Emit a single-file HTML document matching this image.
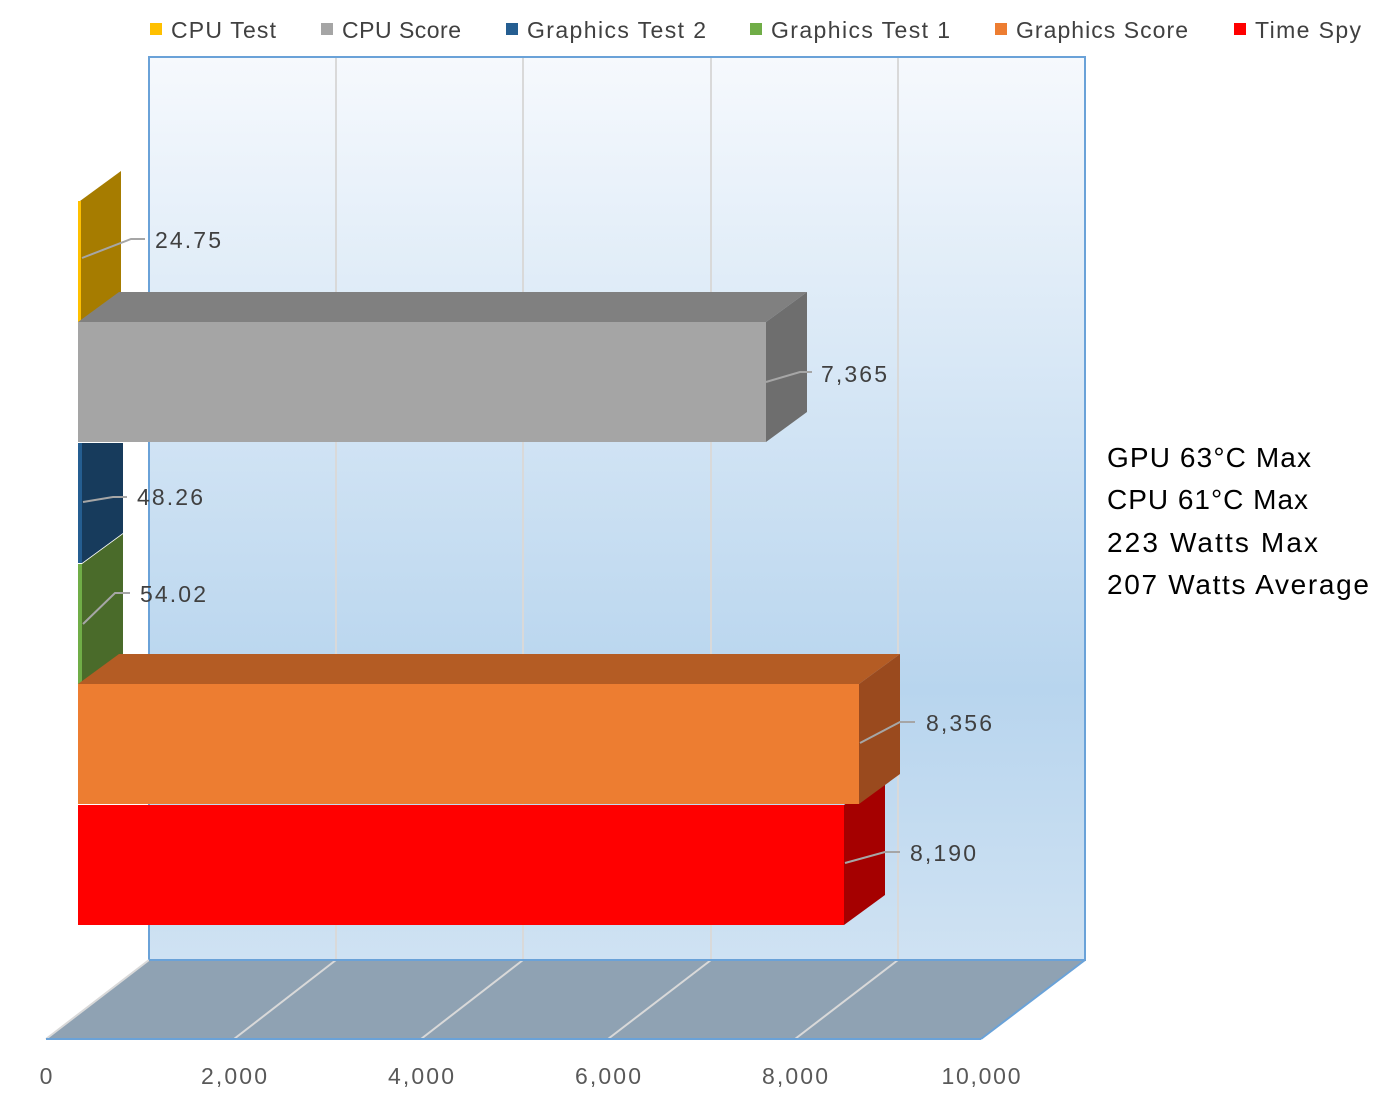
<!DOCTYPE html>
<html><head><meta charset="utf-8"><style>body{margin:0;background:#fff}svg{display:block}</style></head>
<body>
<svg width="1385" height="1107" viewBox="0 0 1385 1107" font-family="Liberation Sans, sans-serif">
<defs><linearGradient id="w" x1="0" y1="0" x2="0" y2="1"><stop offset="0" stop-color="#f6f9fd"/><stop offset="0.7" stop-color="#b8d5ee"/><stop offset="1" stop-color="#cfe2f3"/></linearGradient></defs>
<g font-size="23" fill="#404040">
<rect x="150" y="23" width="12" height="12" fill="#ffc000"/><text x="171" y="38" textLength="105">CPU Test</text>
<rect x="321" y="23" width="12" height="12" fill="#a5a5a5"/><text x="342" y="38" textLength="119">CPU Score</text>
<rect x="506" y="23" width="12" height="12" fill="#255e91"/><text x="527" y="38" textLength="179">Graphics Test 2</text>
<rect x="750" y="23" width="12" height="12" fill="#70ad47"/><text x="771" y="38" textLength="179">Graphics Test 1</text>
<rect x="995" y="23" width="12" height="12" fill="#ed7d31"/><text x="1016" y="38" textLength="172">Graphics Score</text>
<rect x="1234" y="23" width="12" height="12" fill="#ff0000"/><text x="1255" y="38" textLength="106">Time Spy</text>
</g>
<rect x="149" y="57" width="936" height="903" fill="url(#w)" stroke="#6aa2d8" stroke-width="2"/>
<g stroke="#d9d9d9" stroke-width="2">
<line x1="336" y1="58" x2="336" y2="960"/><line x1="523" y1="58" x2="523" y2="960"/><line x1="711" y1="58" x2="711" y2="960"/><line x1="898" y1="58" x2="898" y2="960"/></g>
<polygon points="46,1039 981,1039 1085,960 149,960" fill="#8fa2b3"/>
<g stroke="#d9d9d9" stroke-width="2">
<line x1="46" y1="1039" x2="149" y2="960"/><line x1="234" y1="1039" x2="336" y2="960"/><line x1="421" y1="1039" x2="523" y2="960"/><line x1="608" y1="1039" x2="711" y2="960"/><line x1="795" y1="1039" x2="898" y2="960"/></g>
<line x1="46" y1="1039" x2="981" y2="1039" stroke="#6aa2d8" stroke-width="2"/>
<line x1="981" y1="1039" x2="1085" y2="960" stroke="#6aa2d8" stroke-width="2"/>
<line x1="149" y1="960" x2="1085" y2="960" stroke="#6aa2d8" stroke-width="2"/>
<polygon points="80,201 121,171 121,292 80,322" fill="#a67c00"/><rect x="78" y="201" width="3" height="121" fill="#ffc000"/>
<polygon points="78,322 119,292 807,292 766,322" fill="#808080"/>
<polygon points="766,322 807,292 807,412 766,442" fill="#6e6e6e"/>
<rect x="78" y="322" width="688" height="120" fill="#a5a5a5"/>
<polygon points="82,443 123,443 123,533 82,563" fill="#173b5c"/><rect x="78" y="443" width="4" height="120" fill="#255e91"/>
<polygon points="82,564 123,534 123,654 82,684" fill="#4a6b2a"/><rect x="78" y="564" width="4" height="120" fill="#70ad47"/>
<polygon points="844,805 885,775 885,895 844,925" fill="#a50000"/>
<rect x="78" y="805" width="766" height="120" fill="#ff0000"/>
<polygon points="78,684 119,654 900,654 859,684" fill="#b45c24"/>
<polygon points="859,684 900,654 900,774 859,804" fill="#9a4a1e"/>
<rect x="78" y="684" width="781" height="120" fill="#ed7d31"/>
<g stroke="#a6a6a6" stroke-width="2" fill="none">
<polyline points="82,258 131,239 145,239"/><polyline points="766,382 800,372 812,372"/>
<polyline points="83,502 113,497 127,497"/><polyline points="83,624 115,593 130,593"/>
<polyline points="860,743 900,722 915,722"/><polyline points="845,863 885,852 900,852"/></g>
<g font-size="23" fill="#404040">
<text x="155" y="248" textLength="66">24.75</text><text x="821" y="382" textLength="66">7,365</text>
<text x="137" y="505" textLength="66">48.26</text><text x="140" y="602" textLength="66">54.02</text>
<text x="926" y="731" textLength="66">8,356</text><text x="910" y="861" textLength="66">8,190</text></g>
<g font-size="23" fill="#595959" text-anchor="middle">
<text x="46" y="1084">0</text><text x="234" y="1084" textLength="66">2,000</text><text x="421" y="1084" textLength="66">4,000</text>
<text x="608" y="1084" textLength="66">6,000</text><text x="795" y="1084" textLength="66">8,000</text><text x="981" y="1084" textLength="79">10,000</text></g>
<g font-size="28" fill="#000">
<text x="1107" y="467" textLength="204">GPU 63°C Max</text><text x="1107" y="509" textLength="201">CPU 61°C Max</text>
<text x="1107" y="552" textLength="211">223 Watts Max</text><text x="1107" y="594" textLength="262">207 Watts Average</text></g>
</svg>
</body></html>
